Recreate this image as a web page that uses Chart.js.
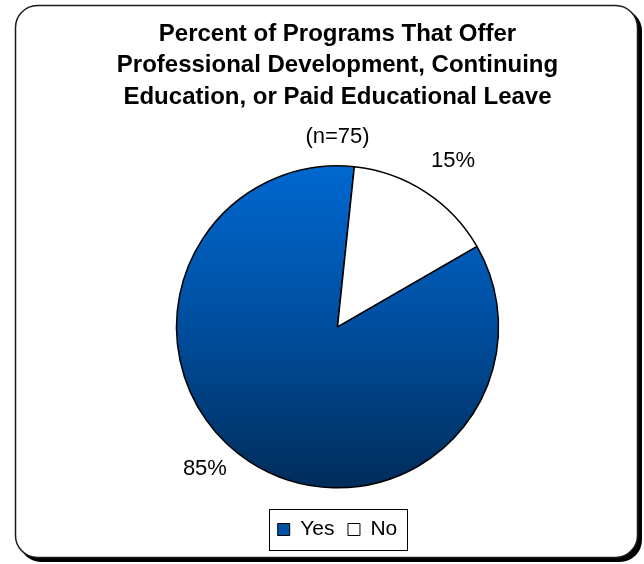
<!DOCTYPE html>
<html>
<head>
<meta charset="utf-8">
<script src="https://cdn.jsdelivr.net/npm/chart.js@4.4.1/dist/chart.umd.min.js"></script>
<style>
  html, body { margin: 0; padding: 0; background: #ffffff; }
  canvas { display: block; }
</style>
</head>
<body>
<canvas id="pie" width="644" height="564"></canvas>
<script>
// Survey answers and their shares
const categories = ['Yes', 'No'];
const percents = [85, 15];
const titleLines = [
  'Percent of Programs That Offer',
  'Professional Development, Continuing',
  'Education, or Paid Educational Leave'
];
const subtitleText = '(n=75)';

const FONT = '"Liberation Sans", Arial, sans-serif';
const PIE_RADIUS = 161;

function roundRect(ctx, x, y, w, h, r) {
  ctx.beginPath();
  ctx.moveTo(x + r, y);
  ctx.lineTo(x + w - r, y);
  ctx.arcTo(x + w, y, x + w, y + r, r);
  ctx.lineTo(x + w, y + h - r);
  ctx.arcTo(x + w, y + h, x + w - r, y + h, r);
  ctx.lineTo(x + r, y + h);
  ctx.arcTo(x, y + h, x, y + h - r, r);
  ctx.lineTo(x, y + r);
  ctx.arcTo(x, y, x + r, y, r);
  ctx.closePath();
}

// Rounded panel with a drop shadow behind the whole chart
const panel = {
  id: 'panel',
  beforeDraw(chart) {
    const ctx = chart.ctx;
    ctx.save();
    ctx.fillStyle = '#ffffff';
    ctx.fillRect(0, 0, chart.width, chart.height);
    roundRect(ctx, 19, 9, 623, 553, 22);
    ctx.fillStyle = '#000000';
    ctx.fill();
    roundRect(ctx, 15.5, 5.5, 622, 552, 22);
    ctx.fillStyle = '#ffffff';
    ctx.fill();
    ctx.lineWidth = 1.5;
    ctx.strokeStyle = '#1a1a1a';
    ctx.stroke();
    ctx.restore();
  }
};

// Frame round the legend entries
const legendFrame = {
  id: 'legendFrame',
  afterDraw(chart) {
    const lg = chart.legend;
    if (!lg || !lg.legendHitBoxes || !lg.legendHitBoxes.length) return;
    const boxes = lg.legendHitBoxes;
    let l = Infinity, r = -Infinity, t = Infinity, b = -Infinity;
    boxes.forEach(h => {
      l = Math.min(l, h.left); r = Math.max(r, h.left + h.width);
      t = Math.min(t, h.top); b = Math.max(b, h.top + h.height);
    });
    const ctx = chart.ctx;
    ctx.save();
    ctx.strokeStyle = '#000000';
    ctx.lineWidth = 1;
    ctx.strokeRect(Math.round(l - 9) + 0.5, Math.round(t - 10) + 0.5,
                   Math.round(r - l + 18), Math.round(b - t + 20));
    ctx.restore();
  }
};

// Percent labels outside each slice
const sliceLabels = {
  id: 'sliceLabels',
  afterDatasetsDraw(chart, args, opts) {
    const ctx = chart.ctx;
    const meta = chart.getDatasetMeta(0);
    ctx.save();
    ctx.font = opts.font;
    ctx.fillStyle = '#000000';
    ctx.textAlign = 'center';
    ctx.textBaseline = 'middle';
    meta.data.forEach((arc, i) => {
      const p = arc.getProps(['x', 'y', 'startAngle', 'endAngle', 'outerRadius'], true);
      const mid = (p.startAngle + p.endAngle) / 2;
      const d = p.outerRadius * opts.distance;
      const n = opts.nudge[i] || [0, 0];
      const x = p.x + Math.cos(mid) * d + n[0];
      const y = p.y + Math.sin(mid) * d + n[1];
      ctx.fillText(percents[i] + '%', x, y);
    });
    ctx.restore();
  }
};

// Top-to-bottom shading of the large slice
const pieFill = (c) => {
  if (c.dataIndex === 1) return '#ffffff';
  const chart = c.chart;
  const a = chart.chartArea;
  if (!a || !isFinite(a.top) || !isFinite(a.bottom)) return '#0050A0';
  const cy = (a.top + a.bottom) / 2;
  const r = Math.min(PIE_RADIUS, (a.bottom - a.top) / 2);
  const g = chart.ctx.createLinearGradient(0, cy - r, 0, cy + r);
  g.addColorStop(0, '#0068D0');
  g.addColorStop(0.5, '#004E9E');
  g.addColorStop(1, '#002C5A');
  return g;
};

new Chart(document.getElementById('pie'), {
  type: 'pie',
  data: {
    labels: categories,
    datasets: [{
      data: percents,
      backgroundColor: pieFill,
      borderColor: '#000000',
      borderWidth: 1.5,
      hoverOffset: 0,
      radius: PIE_RADIUS
    }]
  },
  plugins: [panel, legendFrame, sliceLabels],
  options: {
    responsive: false,
    animation: false,
    rotation: 60,
    layout: { padding: { left: 31, right: 0, top: 0, bottom: 14 } },
    plugins: {
      title: {
        display: true,
        text: titleLines,
        color: '#000000',
        font: { family: FONT, size: 24, weight: 'bold', lineHeight: 1.3 },
        padding: { top: 19, bottom: 13.5 }
      },
      subtitle: {
        display: true,
        text: subtitleText,
        color: '#000000',
        font: { family: FONT, size: 22, weight: 'normal', lineHeight: 1.0 },
        padding: { top: 0, bottom: 0 }
      },
      legend: {
        display: true,
        position: 'bottom',
        labels: {
          color: '#000000',
          font: { family: FONT, size: 21 },
          boxWidth: 12,
          boxHeight: 12,
          padding: 13.5,
          generateLabels(chart) {
            return categories.map((c, i) => ({
              text: c,
              fillStyle: i === 0 ? '#0052A4' : '#ffffff',
              strokeStyle: '#000000',
              fontColor: '#000000',
              lineWidth: 1,
              hidden: false,
              index: i,
              datasetIndex: 0
            }));
          }
        }
      },
      tooltip: { enabled: false },
      sliceLabels: {
        font: '22px ' + FONT,
        distance: 1.25,
        nudge: [[-23, -27], [6, 3]]
      }
    }
  }
});
</script>
</body>
</html>
